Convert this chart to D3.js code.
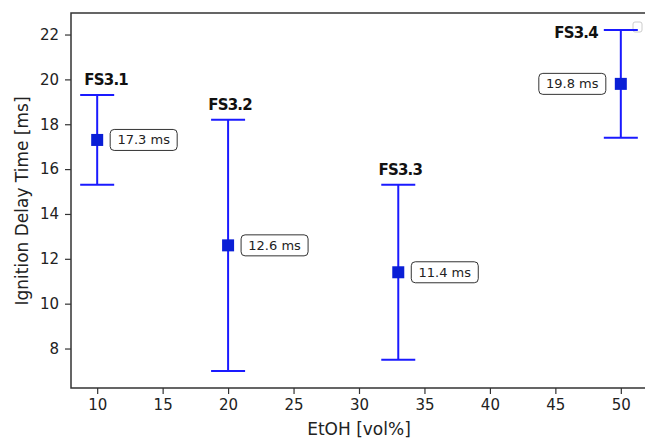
<!DOCTYPE html>
<html><head><meta charset="utf-8">
<script src="https://cdn.jsdelivr.net/npm/d3@7"></script>
<style>body{margin:0;background:#fff}svg{display:block}</style>
</head><body>
<svg id="c" width="645" height="440"></svg>
<script>
const names = ["FS3.1", "FS3.2", "FS3.3", "FS3.4"];
const etoh = [10, 20, 33, 50];
const ignition = [17.3, 12.6, 11.4, 19.8];
const errLow = [15.3, 7.0, 7.5, 17.4];
const errHigh = [19.3, 18.2, 15.3, 22.2];
const xTicks = [10, 15, 20, 25, 30, 35, 40, 45, 50];
const yTicks = [8, 10, 12, 14, 16, 18, 20, 22];

const svg = d3.select("#c");
const m = {l: 71, t: 13, r: 647, b: 388};
const x = d3.scaleLinear().domain([8, 52]).range([m.l, m.r]);
const y = d3.scaleLinear().domain([6.24, 22.96]).range([m.b, m.t]);
const font = "DejaVu Sans, sans-serif";
const blue = "#1a1aff";

// axes
const gx = svg.append("g").attr("transform", `translate(0,${m.b})`)
  .call(d3.axisBottom(x).tickValues(xTicks).tickSize(6).tickPadding(5).tickFormat(d3.format("d")));
const gy = svg.append("g").attr("transform", `translate(${m.l},0)`)
  .call(d3.axisLeft(y).tickValues(yTicks).tickSize(6).tickPadding(6).tickFormat(d3.format("d")));
[gx, gy].forEach(g => {
  g.select(".domain").remove();
  g.selectAll(".tick line").attr("stroke", "#333").attr("stroke-width", 1.2);
  g.selectAll(".tick text").attr("fill", "#222").style("font-family", font).style("font-size", "15px");
});
// spines
svg.append("path").attr("d", `M${m.l},${m.t}V${m.b}H${m.r}V${m.t}Z`)
  .attr("fill", "none").attr("stroke", "#333").attr("stroke-width", 1.5);

// axis labels
svg.append("text").attr("x", 359).attr("y", 435).attr("text-anchor", "middle")
  .style("font-family", font).style("font-size", "17px").attr("fill", "#222").text("EtOH [vol%]");
svg.append("text").attr("transform", `translate(28,201) rotate(-90)`)
  .attr("text-anchor", "middle").style("font-family", font).style("font-size", "17px")
  .attr("fill", "#222").text("Ignition Delay Time [ms]");

// empty legend frame
svg.append("rect").attr("x", 633).attr("y", 22).attr("width", 9).attr("height", 10).attr("rx", 2)
  .attr("fill", "#fff").attr("stroke", "#ccc").attr("stroke-width", 1);

// error bars
const g = svg.append("g");
etoh.forEach((xv, i) => {
  const cx = x(xv);
  g.append("line").attr("x1", cx).attr("x2", cx).attr("y1", y(errLow[i])).attr("y2", y(errHigh[i]))
    .attr("stroke", blue).attr("stroke-width", 2);
  [errLow[i], errHigh[i]].forEach(v => {
    g.append("line").attr("x1", cx - 17).attr("x2", cx + 17).attr("y1", y(v)).attr("y2", y(v))
      .attr("stroke", blue).attr("stroke-width", 2);
  });
  g.append("rect").attr("x", cx - 6).attr("y", y(ignition[i]) - 6).attr("width", 12).attr("height", 12)
    .attr("fill", "#0a1fd6");

  // name label
  const last = i === etoh.length - 1;
  g.append("text")
    .attr("x", last ? cx - 23 : cx + (i === 0 ? 9 : 2))
    .attr("y", last ? y(errHigh[i]) + 8 : y(errHigh[i]) - 10)
    .attr("text-anchor", last ? "end" : "middle")
    .style("font-family", font).style("font-size", "15px").style("font-weight", "bold")
    .style("letter-spacing", "-0.8px")
    .attr("fill", "#111").text(names[i]);

  // value box
  const bw = 67, bh = 21;
  const bx = last ? cx - 15 - bw : cx + 13;
  const by = y(ignition[i]) - bh / 2;
  g.append("rect").attr("x", bx).attr("y", by).attr("width", bw).attr("height", bh).attr("rx", 4)
    .attr("fill", "#fff").attr("stroke", "#333").attr("stroke-width", 1);
  g.append("text").attr("x", bx + bw / 2).attr("y", by + bh / 2 + 4.5).attr("text-anchor", "middle")
    .style("font-family", font).style("font-size", "13px").attr("fill", "#222")
    .text(ignition[i].toFixed(1) + " ms");
});
</script>
</body></html>
